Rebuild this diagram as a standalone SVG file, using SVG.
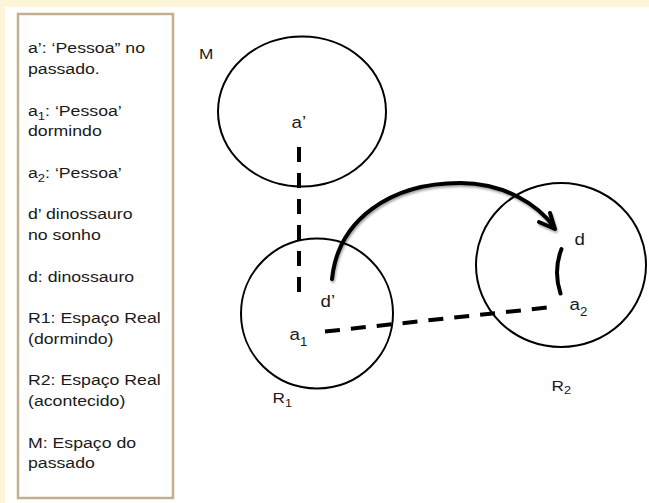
<svg xmlns="http://www.w3.org/2000/svg" width="649" height="503" viewBox="0 0 649 503">
<defs>
<style>
.t{font-family:"Liberation Sans",Arial,sans-serif;font-size:15px;fill:#1a1a1a}
.lbl{font-family:"Liberation Sans",Arial,sans-serif;font-size:17px;fill:#1a1a1a}
.sub{font-size:11px}
.lsub{font-size:12px}
.ring{fill:none;stroke:#000;stroke-width:2}
.dash{fill:none;stroke:#000;stroke-width:4;stroke-dasharray:15 11}
.thick{fill:none;stroke:#000;stroke-width:4;stroke-linecap:round}
</style>
<filter id="sh" x="-10%" y="-10%" width="130%" height="130%">
<feDropShadow dx="1" dy="2" stdDeviation="1.2" flood-color="#000" flood-opacity="0.35"/>
</filter>
</defs>
<rect width="649" height="503" fill="#FCF5D8"/>
<rect x="5" y="7" width="644" height="496" fill="#fff"/>

<g id="legend">
<rect x="18" y="14" width="155" height="484" fill="#fff" stroke="#C3B08C" stroke-width="2.5"/>
<g class="t" transform="translate(28 0) scale(1.18 1)">
<text y="53.5">a’: ‘Pessoa” no</text>
<text y="74.3">passado.</text>
<text y="115.8">a<tspan class="sub" dy="4">1</tspan><tspan dy="-4">: ‘Pessoa’</tspan></text>
<text y="136.5">dormindo</text>
<text y="178">a<tspan class="sub" dy="4">2</tspan><tspan dy="-4">: ‘Pessoa’</tspan></text>
<text y="219.5">d’ dinossauro</text>
<text y="240.3">no sonho</text>
<text y="281.8">d: dinossauro</text>
<text y="323.3">R1: Espaço Real</text>
<text y="344">(dormindo)</text>
<text y="385.5">R2: Espaço Real</text>
<text y="406.3">(acontecido)</text>
<text y="447.8">M: Espaço do</text>
<text y="468.5">passado</text>
</g>
</g>

<g id="space-M">
<ellipse class="ring" cx="302" cy="111.5" rx="84" ry="75"/>
<text class="t" transform="translate(199 59) scale(1.15 1)">M</text>
</g>

<g id="space-R1">
<ellipse class="ring" cx="317" cy="313.5" rx="76" ry="75"/>
<text class="t" transform="translate(272.5 403) scale(1.15 1)">R<tspan class="sub" dy="4">1</tspan></text>
</g>

<g id="space-R2">
<ellipse class="ring" cx="561" cy="265" rx="85" ry="82"/>
<text class="t" transform="translate(551.5 391) scale(1.15 1)">R<tspan class="sub" dy="3">2</tspan></text>
</g>

<g id="node-a-prime"><text class="lbl" transform="translate(291.5 128) scale(1.1 1)">a’</text></g>
<g id="node-d-prime"><text class="lbl" transform="translate(320.5 307) scale(1.1 1)">d’</text></g>
<g id="node-a1"><text class="lbl" transform="translate(289.5 340) scale(1.1 1)">a<tspan class="lsub" dy="6">1</tspan></text></g>
<g id="node-d"><text class="lbl" transform="translate(574.5 245) scale(1.1 1)">d</text></g>
<g id="node-a2"><text class="lbl" transform="translate(569.5 310) scale(1.1 1)">a<tspan class="lsub" dy="6">2</tspan></text></g>

<g id="connectors">
<path class="dash" d="M299,147 L299,298"/>
<path class="dash" d="M325,331.5 L557,306.5"/>
<g filter="url(#sh)">
<path class="thick" d="M332,279 C338,220 390,183 460,183 C505,183 538,205 554,227"/>
<polyline class="thick" stroke-linejoin="round" points="539,222 555,229 550,213"/>
</g>
<path class="thick" d="M561.5,249 Q553,271 560.5,293.5"/>
</g>
</svg>
